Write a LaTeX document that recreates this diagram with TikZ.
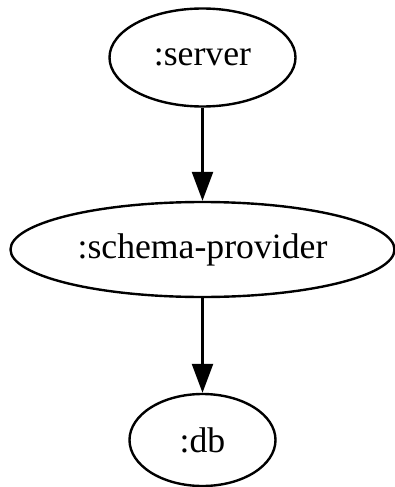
\documentclass[tikz,border=0pt]{standalone}
\usepackage{fontspec}
\setmainfont{Liberation Serif}
\usetikzlibrary{shapes.geometric,arrows.meta}
\begin{document}
\begin{tikzpicture}[x=1pt,y=-1pt,
  every node/.style={font=\fontsize{35.7}{40}\selectfont},
  nd/.style={ellipse,draw,line width=2.4pt,inner sep=0pt},
  edge/.style={line width=2.4pt,-{Triangle[length=29pt,width=21pt]},shorten >=0pt}]
\useasboundingbox (0,0) rectangle (394,487);
\node[nd,minimum width=186pt,minimum height=98pt] (server) at (202.5,57.5) {:server};
\node[nd,minimum width=384pt,minimum height=95pt] (schema) at (202.5,249.5) {:schema-provider};
\node[nd,minimum width=146pt,minimum height=92pt] (db) at (202.5,440) {:db};
\draw[edge] (server) -- (schema);
\draw[edge] (schema) -- (db);
\end{tikzpicture}
\end{document}
